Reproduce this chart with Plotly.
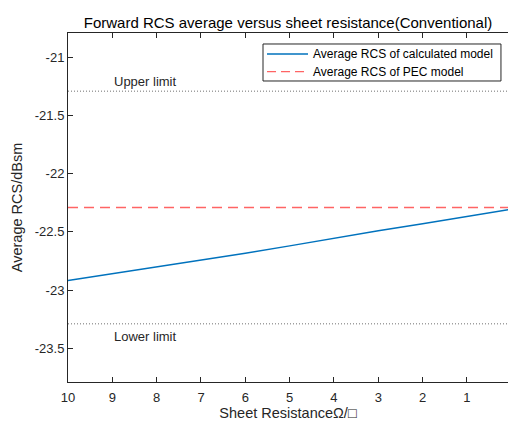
import plotly.graph_objects as go

# Sheet resistance samples and averaged forward RCS (dBsm)
resistance = [10, 9, 8, 7, 6, 5, 4, 3, 2, 1, 0]
rcs_calculated = [-22.917, -22.860, -22.802, -22.745, -22.683, -22.620,
                  -22.553, -22.490, -22.430, -22.367, -22.305]
rcs_pec = -22.29
upper_limit = -21.29
lower_limit = -23.29

x_tick_vals = [10, 9, 8, 7, 6, 5, 4, 3, 2, 1]
x_tick_text = ["10", "9", "8", "7", "6", "5", "4", "3", "2", "1"]
y_tick_vals = [-21, -21.5, -22, -22.5, -23, -23.5]
y_tick_text = ["-21", "-21.5", "-22", "-22.5", "-23", "-23.5"]

FONT = "Liberation Sans, Arial, Helvetica, sans-serif"
INK = "#262626"
BLUE = "#0072BD"
RED = "#FF6464"
CALC_NAME = "Average RCS of calculated model"
PEC_NAME = "Average RCS of PEC model"

x_ends = [resistance[0], resistance[-1]]

fig = go.Figure()
fig.add_trace(go.Scatter(
    x=resistance, y=rcs_calculated, mode="lines", name=CALC_NAME,
    showlegend=False, line=dict(color=BLUE, width=1.4),
))
fig.add_trace(go.Scatter(
    x=x_ends, y=[rcs_pec, rcs_pec], mode="lines", name=PEC_NAME,
    showlegend=False, line=dict(color=RED, width=1.4, dash="10px,6px"),
))
for lim in (upper_limit, lower_limit):
    fig.add_trace(go.Scatter(
        x=x_ends, y=[lim, lim], mode="lines", showlegend=False,
        line=dict(color="#707070", width=1, dash="1px,2px"),
    ))

fig.add_annotation(x=9.0, y=upper_limit + 0.087, text="Upper limit",
                   showarrow=False, xanchor="left", yanchor="middle",
                   font=dict(family=FONT, size=13, color=INK))
fig.add_annotation(x=9.0, y=lower_limit - 0.11, text="Lower limit",
                   showarrow=False, xanchor="left", yanchor="middle",
                   font=dict(family=FONT, size=13, color=INK))

# Compact boxed legend in the upper-right corner of the axes
fig.add_shape(type="rect", xref="paper", yref="paper",
              x0=0.4432, x1=0.984, y0=0.8625, y1=0.9685,
              line=dict(color=INK, width=1), fillcolor="white", layer="above")
legend_rows = [(CALC_NAME, BLUE, "solid", 0.9398), (PEC_NAME, RED, "9px,5px", 0.8891)]
for label, color, dash, yrow in legend_rows:
    fig.add_shape(type="line", xref="paper", yref="paper",
                  x0=0.4523, x1=0.5455, y0=yrow, y1=yrow, layer="above",
                  line=dict(color=color, width=1.3, dash=dash))
    fig.add_annotation(xref="paper", yref="paper", x=0.5525, y=yrow,
                       text=label, showarrow=False, xanchor="left",
                       yanchor="middle",
                       font=dict(family=FONT, size=12, color="#000000"))

fig.update_layout(
    width=508, height=421, autosize=False,
    margin=dict(l=68, r=0, t=33, b=39),
    paper_bgcolor="white", plot_bgcolor="white",
    font=dict(family=FONT, size=13, color=INK),
    title=dict(text="Forward RCS average versus sheet resistance(Conventional)",
               x=0.5, xref="paper", xanchor="center",
               y=1 - 22.5 / 421, yref="container", yanchor="middle",
               font=dict(family=FONT, size=15, color="#000000")),
    showlegend=False,
    xaxis=dict(
        range=[10, 10 - 440 / 44.33], automargin=False,
        tickvals=x_tick_vals, ticktext=x_tick_text,
        ticks="inside", ticklen=5, tickcolor=INK, tickwidth=1,
        ticklabelstandoff=3,
        showline=True, linecolor=INK, linewidth=1, mirror="ticks",
        showgrid=False, zeroline=False,
        tickfont=dict(family=FONT, size=13, color=INK),
        title=dict(text="Sheet ResistanceΩ/□", standoff=11,
                   font=dict(family=FONT, size=14.5, color=INK)),
    ),
    yaxis=dict(
        range=[-23.79, -20.79], automargin=False,
        tickvals=y_tick_vals, ticktext=y_tick_text,
        ticks="inside", ticklen=5, tickcolor=INK, tickwidth=1,
        showline=True, linecolor=INK, linewidth=1, mirror=False,
        showgrid=False, zeroline=False,
        tickfont=dict(family=FONT, size=13, color=INK),
        title=dict(text="Average RCS/dBsm", standoff=8,
                   font=dict(family=FONT, size=14.5, color=INK)),
    ),
)

fig.write_html("out.html")
